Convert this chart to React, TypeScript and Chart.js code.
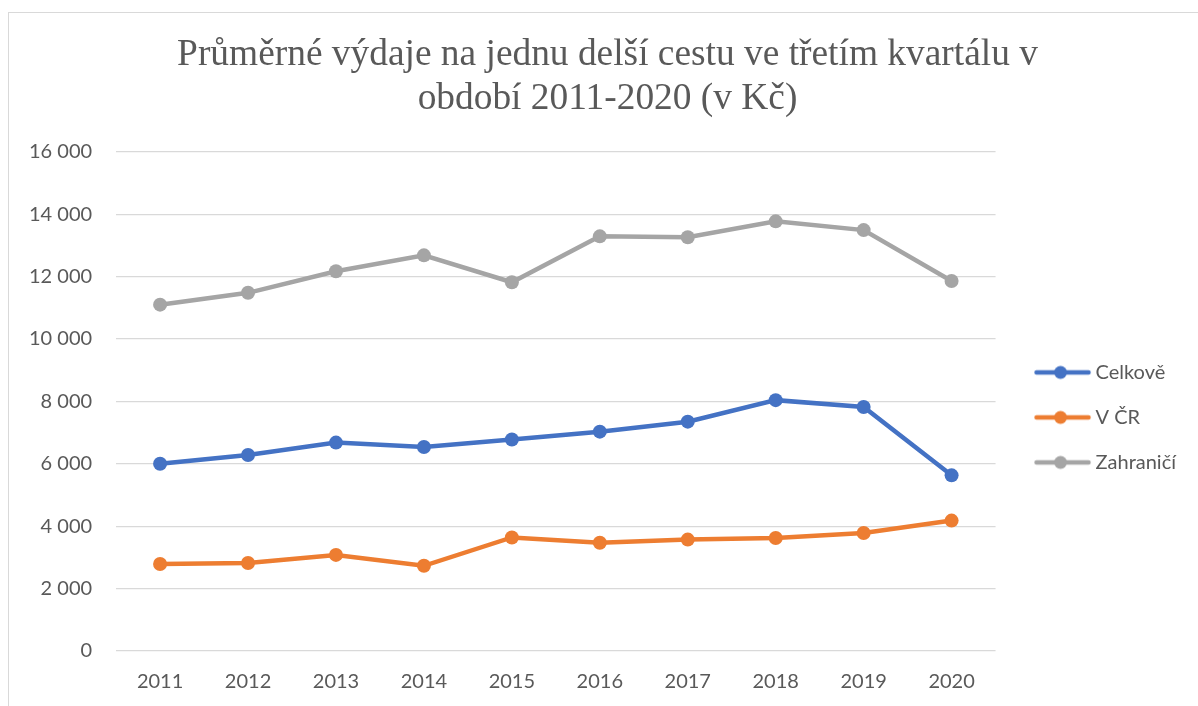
import React, { useEffect, useRef } from "react";
import { Chart, registerables } from "chart.js";

Chart.register(...registerables);

const TITLE_LINES = [
  "Průměrné výdaje na jednu delší cestu ve třetím kvartálu v",
  "období 2011-2020 (v Kč)",
];
const YEARS = ["2011", "2012", "2013", "2014", "2015", "2016", "2017", "2018", "2019", "2020"];
const SERIES_NAMES = ["Celkově", "V ČR", "Zahraničí"];
const CELKOVE = [6000, 6280, 6680, 6540, 6780, 7030, 7350, 8040, 7820, 5630];
const V_CR = [2790, 2820, 3080, 2730, 3640, 3470, 3570, 3620, 3780, 4180];
const ZAHRANICI = [11100, 11480, 12170, 12680, 11820, 13290, 13260, 13770, 13490, 11860];
const COLORS = ["#4472C4", "#ED7D31", "#A5A5A5"];
const Y_MIN = 0;
const Y_MAX = 16000;
const Y_STEP = 2000;

const BOX_W = 65;
const IMG_W = 80;
const IMG_H = 18;

function makeLegendImage(color: string) {
  const c = document.createElement("canvas");
  c.width = IMG_W;
  c.height = IMG_H;
  const ctx = c.getContext("2d")!;
  ctx.strokeStyle = color;
  ctx.lineWidth = 4.5;
  ctx.lineCap = "round";
  ctx.beginPath();
  ctx.moveTo(23.5, IMG_H / 2);
  ctx.lineTo(75.5, IMG_H / 2);
  ctx.stroke();
  ctx.fillStyle = color;
  ctx.beginPath();
  ctx.arc(47.5, IMG_H / 2, 6.5, 0, Math.PI * 2);
  ctx.fill();
  return c;
}

function fmt(v: number) {
  return String(v).replace(/\B(?=(\d{3})+(?!\d))/g, " ");
}

export default function App() {
  const ref = useRef<HTMLCanvasElement>(null);
  useEffect(() => {
    const images = COLORS.map(makeLegendImage);
    const values = [CELKOVE, V_CR, ZAHRANICI];
    const chart = new Chart(ref.current!, {
      type: "line",
      data: {
        labels: YEARS,
        datasets: SERIES_NAMES.map((name, i) => ({
          label: name,
          data: values[i],
          borderColor: COLORS[i],
          backgroundColor: COLORS[i],
          borderWidth: 4.5,
          pointRadius: 7,
          pointBorderWidth: 0,
          pointBackgroundColor: COLORS[i],
          tension: 0,
          fill: false,
        })),
      },
      options: {
        responsive: false,
        animation: false,
        layout: { padding: { left: 20, right: 21, top: 0, bottom: 0 } },
        plugins: {
          tooltip: { enabled: false },
          title: {
            display: true,
            text: TITLE_LINES,
            color: "#595959",
            font: { family: "'Liberation Serif', 'Times New Roman', serif", size: 37.4, weight: "normal", lineHeight: 1.187 },
            padding: { top: 20, bottom: 30 },
          },
          legend: {
            position: "right",
            fullSize: false,
            title: { display: true, text: " ", font: { size: 10 }, padding: 10 },
            labels: {
              color: "#595959",
              font: { family: "Lato, 'Noto Sans', sans-serif", size: 20 },
              padding: 25,
              usePointStyle: true,
              pointStyleWidth: BOX_W,
              generateLabels: (ch: any) => {
                const items = Chart.defaults.plugins.legend.labels.generateLabels(ch);
                return items.map((it: any, i: number) => ({ ...it, pointStyle: images[i] }));
              },
            },
          },
        },
        scales: {
          x: {
            offset: true,
            grid: { display: false, drawTicks: false },
            border: { display: false },
            ticks: {
              color: "#595959",
              font: { family: "Lato, 'Noto Sans', sans-serif", size: 20 },
              padding: 19,
            },
          },
          y: {
            min: Y_MIN,
            max: Y_MAX,
            grid: { color: "#D9D9D9", lineWidth: 1.3, drawTicks: false },
            border: { display: false },
            afterFit: (s: any) => {
              s.width = s.width - 24;
            },
            ticks: {
              stepSize: Y_STEP,
              color: "#595959",
              font: { family: "Lato, 'Noto Sans', sans-serif", size: 20 },
              padding: 24,
              callback: (v: any) => fmt(Number(v)),
            },
          },
        },
      },
    });
    return () => chart.destroy();
  }, []);

  return (
    <div style={{ position: "fixed", inset: 0, overflow: "hidden", background: "#fff" }}>
      <div
        style={{
          position: "absolute",
          left: 8,
          top: 12,
          width: 1220,
          height: 730,
          border: "1px solid #D9D9D9",
          boxSizing: "border-box",
        }}
      >
        <canvas ref={ref} width={1198} height={700} style={{ display: "block", width: 1198, height: 700 }} />
      </div>
    </div>
  );
}
